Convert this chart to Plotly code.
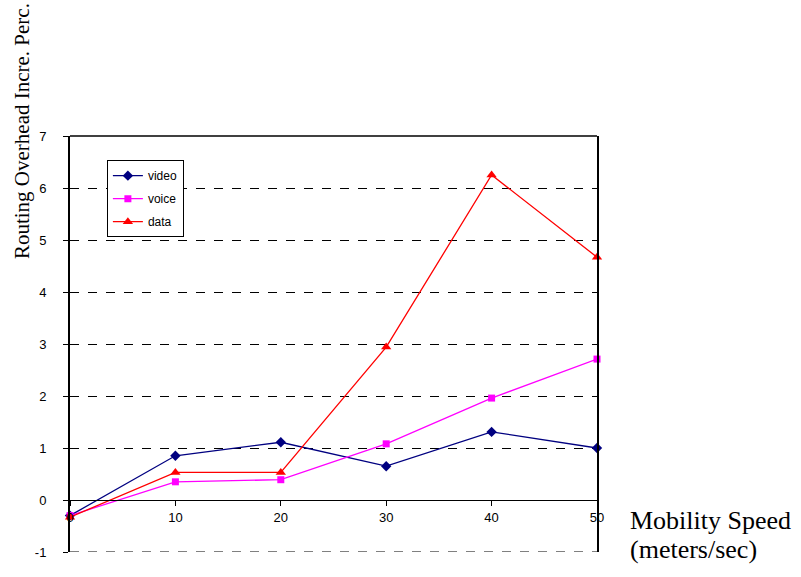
import plotly.graph_objects as go

# Mobility speed (m/s) and routing-overhead increase per traffic class
speed = [0, 10, 20, 30, 40, 50]
video = [-0.30, 0.85, 1.11, 0.65, 1.31, 1.00]
voice = [-0.30, 0.35, 0.39, 1.08, 1.96, 2.71]
data = [-0.33, 0.53, 0.53, 2.94, 6.25, 4.67]

y_ticks = [-1, 0, 1, 2, 3, 4, 5, 6, 7]
x_ticks = [0, 10, 20, 30, 40, 50]

series = [
    ("video", video, "#000080", "diamond", 8),
    ("voice", voice, "#FF00FF", "square", 7),
    ("data", data, "#FF0000", "triangle-up", 9),
]

fig = go.Figure()
for name, vals, color, symbol, size in series:
    fig.add_trace(go.Scatter(
        x=speed, y=vals, name=name, legendgroup=name,
        mode="lines+markers",
        line=dict(color=color, width=1.3),
        marker=dict(symbol=symbol, size=size, color=color),
        cliponaxis=False,
    ))

serif = "Liberation Serif, Times New Roman"

fig.update_layout(
    width=801, height=577,
    margin=dict(l=70, r=204, t=136, b=25),
    plot_bgcolor="white", paper_bgcolor="white",
    font=dict(family="Arial, Liberation Sans", size=12, color="black"),
    showlegend=True,
    legend=dict(
        x=0.070, y=0.942, xanchor="left", yanchor="top",
        bordercolor="black", borderwidth=1, bgcolor="white",
        font=dict(size=12), tracegroupgap=4,
    ),
    xaxis=dict(
        range=[0, 50], tickvals=x_ticks, ticktext=[str(v) for v in x_ticks],
        showgrid=False, zeroline=False,
        showline=True, linecolor="black", linewidth=1,
        ticks="outside", ticklen=5, tickcolor="black",
        anchor="free", position=(0 - y_ticks[0]) / (y_ticks[-1] - y_ticks[0]),
        tickfont=dict(size=13),
    ),
    yaxis=dict(
        range=[-1, 7], tickvals=y_ticks, ticktext=[str(v) for v in y_ticks],
        showgrid=True, gridcolor="black", gridwidth=1, griddash="dash",
        zeroline=True, zerolinecolor="black", zerolinewidth=1,
        showline=True, linecolor="black", linewidth=2, mirror=True,
        ticks="outside", ticklen=5, tickcolor="black",
        ticklabelstandoff=14, tickfont=dict(size=13),
    ),
    shapes=[
        # solid top edge of the frame
        dict(type="line", xref="paper", yref="paper",
             x0=0, x1=1, y0=1, y1=1,
             line=dict(color="black", width=1.5)),
        # dashed gridline along the lowest tick
        dict(type="line", xref="paper", yref="y",
             x0=0, x1=1, y0=y_ticks[0], y1=y_ticks[0],
             line=dict(color="black", width=1, dash="dash")),
    ],
    annotations=[
        dict(text="Routing Overhead Incre. Perc.", textangle=-90,
             xref="paper", yref="paper", x=-0.091, y=1.012,
             xanchor="center", yanchor="middle", showarrow=False,
             font=dict(family=serif, size=21)),
        dict(text="Mobility Speed",
             xref="paper", yref="paper", x=1.059, y=0.075,
             xanchor="left", yanchor="middle", showarrow=False,
             font=dict(family=serif, size=26)),
        dict(text="(meters/sec)",
             xref="paper", yref="paper", x=1.059, y=0.005,
             xanchor="left", yanchor="middle", showarrow=False,
             font=dict(family=serif, size=26)),
    ],
)

fig.write_html("out.html")
